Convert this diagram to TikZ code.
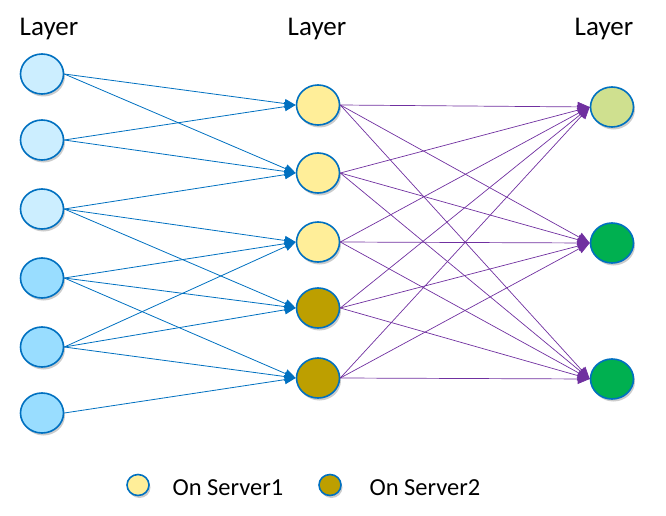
\documentclass[tikz,border=0pt]{standalone}
\usepackage{fontspec}
\setmainfont{Carlito}
\usetikzlibrary{shapes.geometric,shadows,arrows.meta}

\definecolor{nodeline}{HTML}{0070C0}
\definecolor{paleblue}{HTML}{CCEEFF}
\definecolor{skyblue}{HTML}{99DDFF}
\definecolor{serverone}{HTML}{FFEE99}
\definecolor{servertwo}{HTML}{BD9F00}
\definecolor{palegreen}{HTML}{CFE08F}
\definecolor{outgreen}{HTML}{00B050}
\definecolor{weightpurple}{HTML}{7030A0}

\tikzset{
  neuron/.style={ellipse, draw=nodeline, line width=1.6pt, minimum width=43pt, minimum height=40pt, inner sep=0pt,
    drop shadow={shadow xshift=1.5pt, shadow yshift=-2.5pt, opacity=0.2, fill=black}},
  keydot/.style={neuron, minimum width=22pt, minimum height=21pt},
  label/.style={anchor=base, font=\fontsize{27}{32}\selectfont},
  keytext/.style={anchor=base west, font=\fontsize{24.5}{29}\selectfont},
  firstlink/.style={draw=nodeline, line width=0.8pt, -{Triangle[length=11pt,width=9pt]}},
  secondlink/.style={draw=weightpurple, line width=0.7pt, -{Triangle[length=12pt,width=10pt]}}
}

\begin{document}
\begin{tikzpicture}[x=1pt,y=-1pt]
\useasboundingbox (0,0) rectangle (666,516);

\node[label] (T1) at (49,36) {Layer};
\node[label] (T2) at (317,36) {Layer};
\node[label] (T3) at (604,36) {Layer};

% input layer
\node[neuron, fill=paleblue] (L1) at (42,74) {};
\node[neuron, fill=paleblue] (L2) at (42,140) {};
\node[neuron, fill=paleblue] (L3) at (42,209) {};
\node[neuron, fill=skyblue] (L4) at (42,278) {};
\node[neuron, fill=skyblue] (L5) at (42,347) {};
\node[neuron, fill=skyblue] (L6) at (42,413) {};

% hidden layer
\node[neuron, fill=serverone] (M1) at (318,105) {};
\node[neuron, fill=serverone] (M2) at (318,173) {};
\node[neuron, fill=serverone] (M3) at (318,242) {};
\node[neuron, fill=servertwo] (M4) at (318,308) {};
\node[neuron, fill=servertwo] (M5) at (318,378) {};

% output layer
\node[neuron, fill=palegreen] (R1) at (612,107) {};
\node[neuron, fill=outgreen] (R2) at (612,243) {};
\node[neuron, fill=outgreen] (R3) at (612,379) {};

\draw[firstlink] (L1.east) -- (M1.west);
\draw[firstlink] (L1.east) -- (M2.west);
\draw[firstlink] (L2.east) -- (M1.west);
\draw[firstlink] (L2.east) -- (M2.west);
\draw[firstlink] (L3.east) -- (M2.west);
\draw[firstlink] (L3.east) -- (M3.west);
\draw[firstlink] (L3.east) -- (M4.west);
\draw[firstlink] (L4.east) -- (M3.west);
\draw[firstlink] (L4.east) -- (M4.west);
\draw[firstlink] (L4.east) -- (M5.west);
\draw[firstlink] (L5.east) -- (M3.west);
\draw[firstlink] (L5.east) -- (M4.west);
\draw[firstlink] (L5.east) -- (M5.west);
\draw[firstlink] (L6.east) -- (M5.west);

\draw[secondlink] (M1.east) -- (R1.west);
\draw[secondlink] (M1.east) -- (R2.west);
\draw[secondlink] (M1.east) -- (R3.west);
\draw[secondlink] (M2.east) -- (R1.west);
\draw[secondlink] (M2.east) -- (R2.west);
\draw[secondlink] (M2.east) -- (R3.west);
\draw[secondlink] (M3.east) -- (R1.west);
\draw[secondlink] (M3.east) -- (R2.west);
\draw[secondlink] (M3.east) -- (R3.west);
\draw[secondlink] (M4.east) -- (R1.west);
\draw[secondlink] (M4.east) -- (R2.west);
\draw[secondlink] (M4.east) -- (R3.west);
\draw[secondlink] (M5.east) -- (R1.west);
\draw[secondlink] (M5.east) -- (R2.west);
\draw[secondlink] (M5.east) -- (R3.west);

% legend
\node[keydot, fill=serverone] (K1) at (138,485) {};
\node[keydot, fill=servertwo] (K2) at (330,485) {};
\node[keytext] (S1) at (169,495) {On Server1};
\node[keytext] (S2) at (366,495) {On Server2};
\end{tikzpicture}
\end{document}
